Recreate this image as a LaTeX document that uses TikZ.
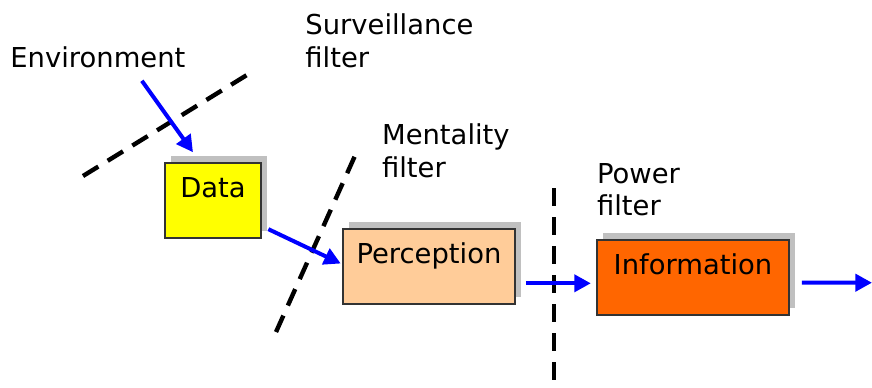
\documentclass[tikz,border=0pt]{standalone}
\usepackage{fontspec}
\setmainfont{DejaVu Sans}
\usetikzlibrary{positioning,shadows,arrows.meta}
\definecolor{shadowgray}{HTML}{C0C0C0}
\definecolor{datacol}{HTML}{FFFF00}
\definecolor{perceptcol}{HTML}{FFCC99}
\definecolor{infocol}{HTML}{FF6600}

\begin{document}
\begin{tikzpicture}[x=0.5pt,y=-0.5pt,
    font=\fontsize{13.7}{16.2}\selectfont,
    stage/.style={draw=black!80,line width=0.75pt,inner sep=0pt,
      text height=17pt,text depth=20.5pt,
      drop shadow={shadow xshift=3pt,shadow yshift=3.5pt,fill=shadowgray,opacity=1}},
    lbl/.style={inner sep=0pt,align=left},
    filterline/.style={line width=2.2pt,dash pattern=on 9pt off 5.5pt},
    flow/.style={blue,line width=2pt,-{Triangle[length=8.3pt,width=8.5pt]}}]
    \useasboundingbox (0,0) rectangle (872,387);
    \node[lbl,anchor=base west] (env) at (10,67) {Environment};
    \node[lbl,anchor=north west] (survlbl) at (305,13.5) {Surveillance\\filter};
    \node[lbl,anchor=north west] (mentlbl) at (381.7,123.5) {Mentality\\filter};
    \node[lbl,anchor=north west] (powlbl) at (596.7,163) {Power\\filter};
    \draw[filterline] (83,176) -- (255,70);
    \draw[filterline] (276,332) -- (358,149);
    \draw[filterline] (554,188) -- (554,387);
    \node[stage,fill=datacol,minimum width=48pt] (data) at (213,200.5) {Data};
    \node[stage,fill=perceptcol,minimum width=86pt] (percept) at (429,266.5) {Perception};
    \node[stage,fill=infocol,minimum width=96pt] (info) at (693,277.5) {Information};
    \coordinate (exit) at (872,282.7);
    \draw[flow] ([xshift=22pt,yshift=-6.5pt]env.south) -- ([xshift=-10pt,yshift=5pt]data.north);
    \draw[flow] ([xshift=3.3pt,yshift=4.8pt]data.south east) -- ([xshift=-0.75pt,yshift=1.5pt]percept.west);
    \draw[flow] ([xshift=5pt,yshift=-8.4pt]percept.east) -- ([xshift=-2.7pt,yshift=-2.9pt]info.west);
    \draw[flow] ([xshift=6pt,yshift=-2.6pt]info.east) -- (exit);
\end{tikzpicture}
\end{document}
